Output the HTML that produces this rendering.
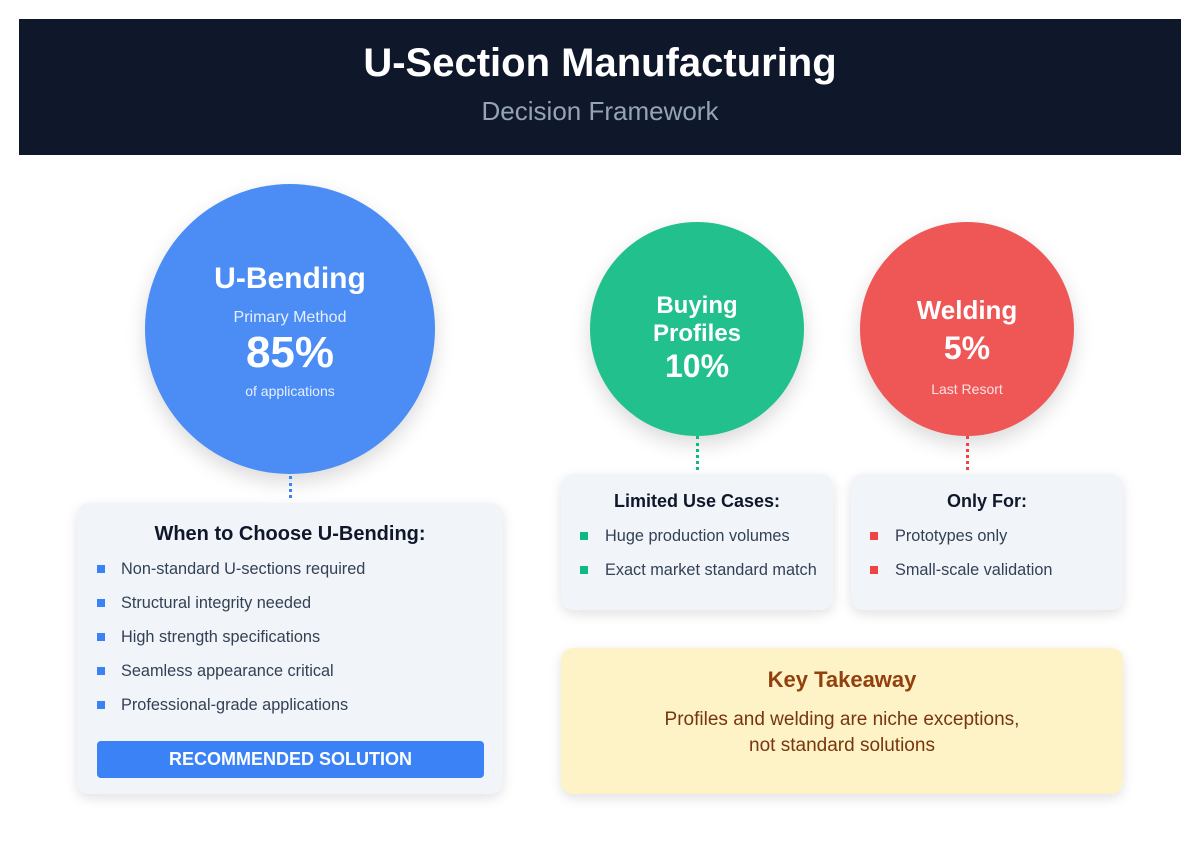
<!DOCTYPE html>
<html><head><meta charset="utf-8"><style>
*{margin:0;padding:0;box-sizing:border-box}
body{width:1200px;height:861px;background:#fff;font-family:"Liberation Sans",Arial,sans-serif;position:relative;overflow:hidden}
.a{position:absolute}
.c{position:absolute;text-align:center;white-space:nowrap;transform:translateX(-50%)}
.circle{position:absolute;border-radius:50%;box-shadow:0 8px 20px rgba(0,0,0,.15)}
.card{position:absolute;background:#f1f5f9;border-radius:12px;box-shadow:0 4px 12px rgba(0,0,0,.12)}
.b{position:absolute;width:8px;height:8px}
.t{position:absolute;font-size:16.3px;color:#334155;line-height:18px;white-space:nowrap}
.dot{position:absolute;width:0;border-left:3px dotted}
</style></head><body>
<div class="a" style="left:19px;top:19px;width:1162px;height:136px;background:#0f172a"></div>
<div class="c" style="left:600px;top:41px;font-size:40px;font-weight:bold;color:#fff">U-Section Manufacturing</div>
<div class="c" style="left:600px;top:96px;font-size:26px;color:#94a3b8">Decision Framework</div>

<div class="circle" style="left:145px;top:184px;width:290px;height:290px;background:#4b8df5"></div>
<div class="c" style="left:290px;top:262px;font-size:30px;font-weight:bold;color:#fff">U-Bending</div>
<div class="c" style="left:290px;top:309px;font-size:16px;color:#e6efff">Primary Method</div>
<div class="c" style="left:290px;top:328px;font-size:44px;font-weight:bold;color:#fff">85%</div>
<div class="c" style="left:290px;top:383px;font-size:14px;color:#e6efff">of applications</div>

<div class="circle" style="left:590px;top:222px;width:214px;height:214px;background:#22c08c"></div>
<div class="c" style="left:697px;top:292px;font-size:24px;font-weight:bold;color:#fff;line-height:28px">Buying<br>Profiles</div>
<div class="c" style="left:697px;top:348px;font-size:32px;font-weight:bold;color:#fff">10%</div>

<div class="circle" style="left:860px;top:222px;width:214px;height:214px;background:#ef5656"></div>
<div class="c" style="left:967px;top:295px;font-size:26px;font-weight:bold;color:#fff">Welding</div>
<div class="c" style="left:967px;top:330px;font-size:32px;font-weight:bold;color:#fff">5%</div>
<div class="c" style="left:967px;top:381px;font-size:14px;color:#fde2e2">Last Resort</div>

<div class="dot" style="left:289px;top:476px;height:22px;border-color:#3b82f6"></div>
<div class="dot" style="left:696px;top:436px;height:34px;border-color:#10b981"></div>
<div class="dot" style="left:966px;top:436px;height:34px;border-color:#ef4444"></div>

<div class="card" style="left:77px;top:503px;width:426px;height:291px"></div>
<div class="c" style="left:290px;top:523px;font-size:20px;font-weight:bold;color:#0f172a">When to Choose U-Bending:</div>
<div class="b" style="left:97px;top:565px;background:#3b82f6"></div><div class="t" style="left:121px;top:560px">Non-standard U-sections required</div>
<div class="b" style="left:97px;top:599px;background:#3b82f6"></div><div class="t" style="left:121px;top:594px">Structural integrity needed</div>
<div class="b" style="left:97px;top:633px;background:#3b82f6"></div><div class="t" style="left:121px;top:628px">High strength specifications</div>
<div class="b" style="left:97px;top:667px;background:#3b82f6"></div><div class="t" style="left:121px;top:662px">Seamless appearance critical</div>
<div class="b" style="left:97px;top:701px;background:#3b82f6"></div><div class="t" style="left:121px;top:696px">Professional-grade applications</div>
<div class="a" style="left:97px;top:741px;width:387px;height:37px;background:#3b82f6;border-radius:4px;color:#fff;font-weight:bold;font-size:18px;text-align:center;line-height:37px">RECOMMENDED SOLUTION</div>

<div class="card" style="left:561px;top:474px;width:272px;height:136px"></div>
<div class="c" style="left:697px;top:491px;font-size:18px;font-weight:bold;color:#0f172a">Limited Use Cases:</div>
<div class="b" style="left:580px;top:532px;background:#10b981"></div><div class="t" style="left:605px;top:527px">Huge production volumes</div>
<div class="b" style="left:580px;top:566px;background:#10b981"></div><div class="t" style="left:605px;top:561px">Exact market standard match</div>

<div class="card" style="left:851px;top:474px;width:272px;height:136px"></div>
<div class="c" style="left:987px;top:491px;font-size:18px;font-weight:bold;color:#0f172a">Only For:</div>
<div class="b" style="left:870px;top:532px;background:#ef4444"></div><div class="t" style="left:895px;top:527px">Prototypes only</div>
<div class="b" style="left:870px;top:566px;background:#ef4444"></div><div class="t" style="left:895px;top:561px">Small-scale validation</div>

<div class="a" style="left:561px;top:648px;width:562px;height:146px;background:#fef3c7;border-radius:12px;box-shadow:0 4px 12px rgba(0,0,0,.12)"></div>
<div class="c" style="left:842px;top:667px;font-size:22px;font-weight:bold;color:#92400e">Key Takeaway</div>
<div class="c" style="left:842px;top:707px;font-size:19px;color:#78350f;line-height:26px">Profiles and welding are niche exceptions,<br>not standard solutions</div>
</body></html>
